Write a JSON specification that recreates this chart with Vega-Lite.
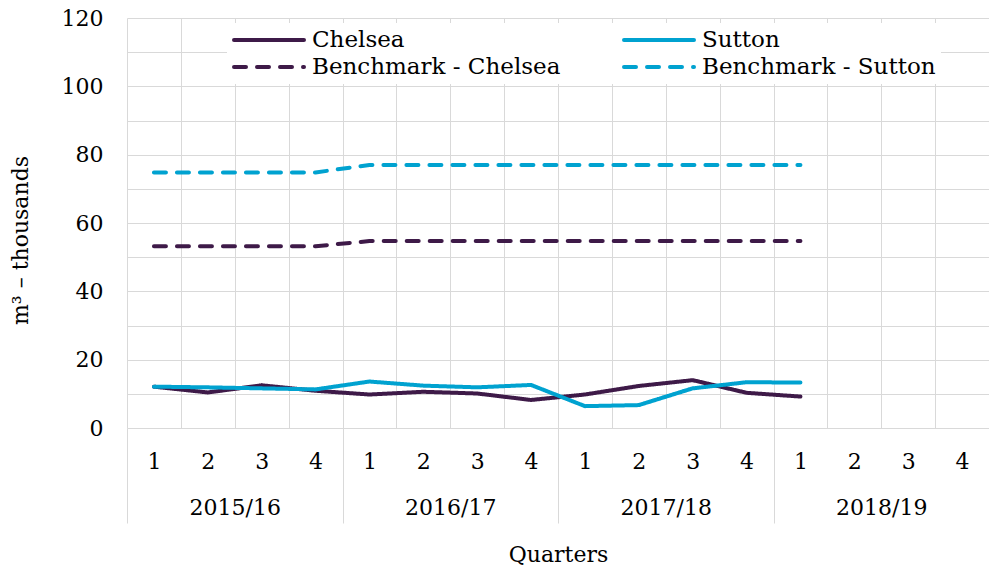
{
  "$schema": "https://vega.github.io/schema/vega-lite/v6.json",
  "width": 862,
  "height": 410,
  "autosize": {"type": "none"},
  "padding": {"left": 127, "top": 18, "right": 0, "bottom": 140},
  "background": "white",
  "config": {
    "view": {"stroke": null},
    "font": "DejaVu Serif",
    "axis": {"labelFont": "DejaVu Serif", "titleFont": "DejaVu Serif", "labelColor": "#000000", "titleColor": "#000000", "labelFontSize": 22, "titleFontSize": 22, "titleFontWeight": "normal", "gridColor": "#d9d9d9", "gridWidth": 1},
    "legend": {"labelFont": "DejaVu Serif", "labelFontSize": 23, "labelColor": "#000000"}
  },
  "layer": [
    {
      "data": {"values": [
        {"period": "2015/16-1", "series": "Chelsea", "value": 12.1},
        {"period": "2015/16-2", "series": "Chelsea", "value": 10.4},
        {"period": "2015/16-3", "series": "Chelsea", "value": 12.5},
        {"period": "2015/16-4", "series": "Chelsea", "value": 10.9},
        {"period": "2016/17-1", "series": "Chelsea", "value": 9.8},
        {"period": "2016/17-2", "series": "Chelsea", "value": 10.6},
        {"period": "2016/17-3", "series": "Chelsea", "value": 10.1},
        {"period": "2016/17-4", "series": "Chelsea", "value": 8.2},
        {"period": "2017/18-1", "series": "Chelsea", "value": 9.8},
        {"period": "2017/18-2", "series": "Chelsea", "value": 12.3},
        {"period": "2017/18-3", "series": "Chelsea", "value": 14.0},
        {"period": "2017/18-4", "series": "Chelsea", "value": 10.3},
        {"period": "2018/19-1", "series": "Chelsea", "value": 9.2},
        {"period": "2015/16-1", "series": "Sutton", "value": 12.1},
        {"period": "2015/16-2", "series": "Sutton", "value": 11.9},
        {"period": "2015/16-3", "series": "Sutton", "value": 11.6},
        {"period": "2015/16-4", "series": "Sutton", "value": 11.3},
        {"period": "2016/17-1", "series": "Sutton", "value": 13.6},
        {"period": "2016/17-2", "series": "Sutton", "value": 12.4},
        {"period": "2016/17-3", "series": "Sutton", "value": 11.9},
        {"period": "2016/17-4", "series": "Sutton", "value": 12.6},
        {"period": "2017/18-1", "series": "Sutton", "value": 6.4},
        {"period": "2017/18-2", "series": "Sutton", "value": 6.7},
        {"period": "2017/18-3", "series": "Sutton", "value": 11.6},
        {"period": "2017/18-4", "series": "Sutton", "value": 13.4},
        {"period": "2018/19-1", "series": "Sutton", "value": 13.3},
        {"period": "2015/16-1", "series": "Benchmark - Chelsea", "value": 53.2},
        {"period": "2015/16-2", "series": "Benchmark - Chelsea", "value": 53.2},
        {"period": "2015/16-3", "series": "Benchmark - Chelsea", "value": 53.2},
        {"period": "2015/16-4", "series": "Benchmark - Chelsea", "value": 53.2},
        {"period": "2016/17-1", "series": "Benchmark - Chelsea", "value": 54.7},
        {"period": "2016/17-2", "series": "Benchmark - Chelsea", "value": 54.7},
        {"period": "2016/17-3", "series": "Benchmark - Chelsea", "value": 54.7},
        {"period": "2016/17-4", "series": "Benchmark - Chelsea", "value": 54.7},
        {"period": "2017/18-1", "series": "Benchmark - Chelsea", "value": 54.7},
        {"period": "2017/18-2", "series": "Benchmark - Chelsea", "value": 54.7},
        {"period": "2017/18-3", "series": "Benchmark - Chelsea", "value": 54.7},
        {"period": "2017/18-4", "series": "Benchmark - Chelsea", "value": 54.7},
        {"period": "2018/19-1", "series": "Benchmark - Chelsea", "value": 54.7},
        {"period": "2015/16-1", "series": "Benchmark - Sutton", "value": 74.8},
        {"period": "2015/16-2", "series": "Benchmark - Sutton", "value": 74.8},
        {"period": "2015/16-3", "series": "Benchmark - Sutton", "value": 74.8},
        {"period": "2015/16-4", "series": "Benchmark - Sutton", "value": 74.8},
        {"period": "2016/17-1", "series": "Benchmark - Sutton", "value": 77.0},
        {"period": "2016/17-2", "series": "Benchmark - Sutton", "value": 77.0},
        {"period": "2016/17-3", "series": "Benchmark - Sutton", "value": 77.0},
        {"period": "2016/17-4", "series": "Benchmark - Sutton", "value": 77.0},
        {"period": "2017/18-1", "series": "Benchmark - Sutton", "value": 77.0},
        {"period": "2017/18-2", "series": "Benchmark - Sutton", "value": 77.0},
        {"period": "2017/18-3", "series": "Benchmark - Sutton", "value": 77.0},
        {"period": "2017/18-4", "series": "Benchmark - Sutton", "value": 77.0},
        {"period": "2018/19-1", "series": "Benchmark - Sutton", "value": 77.0}
      ]},
      "mark": {"type": "line", "strokeWidth": 4, "strokeCap": "round", "strokeJoin": "round"},
      "encoding": {
        "x": {
          "field": "period", "type": "ordinal",
          "scale": {"domain": ["2015/16-1","2015/16-2","2015/16-3","2015/16-4","2016/17-1","2016/17-2","2016/17-3","2016/17-4","2017/18-1","2017/18-2","2017/18-3","2017/18-4","2018/19-1","2018/19-2","2018/19-3","2018/19-4"], "paddingInner": 0, "paddingOuter": 0},
          "axis": {"orient": "bottom", "title": null, "tickBand": "extent", "grid": true, "ticks": false, "domain": false, "labelAngle": 0, "labelPadding": 23, "labelExpr": "slice(datum.label, -1)"}
        },
        "y": {
          "field": "value", "type": "quantitative",
          "scale": {"domain": [0, 120], "nice": false},
          "axis": {"title": "m³ – thousands", "titleY": 222, "values": [0,10,20,30,40,50,60,70,80,90,100,110,120], "labelExpr": "datum.value % 20 == 0 ? datum.label : ''", "ticks": false, "domain": false, "labelPadding": 24, "titlePadding": 29, "labelBaseline": "middle"}
        },
        "color": {
          "field": "series", "type": "nominal",
          "scale": {"domain": ["Chelsea", "Benchmark - Chelsea", "Sutton", "Benchmark - Sutton"], "range": ["#3E1A48", "#3E1A48", "#00A2D0", "#00A2D0"]},
          "legend": {
            "title": null, "orient": "none", "legendX": 100, "legendY": 5, "columns": 2, "columnPadding": 61, "rowPadding": 3, "clipHeight": 24,
            "symbolType": "stroke", "symbolSize": 4900, "symbolStrokeWidth": 4, "labelOffset": 6,
            "fillColor": "white", "padding": 5, "labelLimit": 400,
            "encode": {"symbols": {"update": {"strokeCap": {"value": "round"}}}}
          }
        },
        "strokeDash": {
          "field": "series", "type": "nominal",
          "scale": {"domain": ["Chelsea", "Benchmark - Chelsea", "Sutton", "Benchmark - Sutton"], "range": [[1, 0], [12, 11], [1, 0], [12, 11]]},
          "legend": null
        }
      }
    },
    {
      "data": {"values": [
        {"year": "2015/16"}, {"year": "2016/17"}, {"year": "2017/18"}, {"year": "2018/19"}
      ]},
      "mark": {"type": "text", "text": ""},
      "encoding": {
        "x": {
          "field": "year", "type": "ordinal",
          "scale": {"domain": ["2015/16", "2016/17", "2017/18", "2018/19"], "paddingInner": 0, "paddingOuter": 0},
          "axis": {"orient": "bottom", "title": "Quarters", "titlePadding": 21, "tickBand": "extent", "grid": false, "ticks": true, "tickSize": 95, "tickColor": "#d9d9d9", "domain": false, "labelAngle": 0, "labelPadding": -26, "labelFontSize": 22}
        }
      }
    }
  ],
  "resolve": {"scale": {"x": "independent"}, "axis": {"x": "independent"}}
}
